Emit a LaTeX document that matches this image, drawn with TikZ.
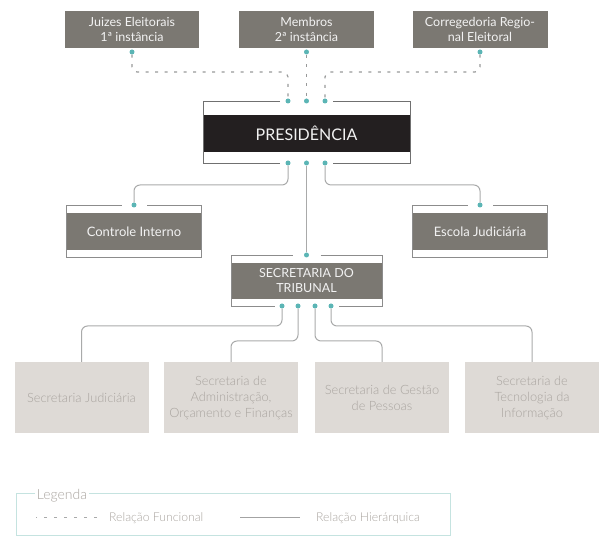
\documentclass[tikz,border=0pt]{standalone}
\usepackage{fontspec}
\setmainfont{Lato}[UprightFont={* Light}]
\newfontfamily\latoreg{Lato}
\usepackage{tikz}
\usetikzlibrary{positioning, calc}

\definecolor{boxgray}{HTML}{7B7872}
\definecolor{headdark}{HTML}{231F20}
\definecolor{lightbox}{HTML}{DEDAD6}
\definecolor{lighttext}{HTML}{A9A49F}
\definecolor{dotteal}{HTML}{5BB5B5}
\definecolor{linegray}{HTML}{A9AAAA}
\definecolor{framegray}{HTML}{8C8C8C}
\definecolor{legendline}{HTML}{C5E3E0}

\begin{document}
\begin{tikzpicture}[x=1pt, y=1pt,
                unitbox/.style={fill=boxgray, text=white!95!black, minimum width=135pt, minimum height=37pt,
                                align=center, inner sep=2pt, font=\latoreg\fontsize{12.5}{15}\selectfont},
                headbox/.style={unitbox, fill=headdark, minimum width=207pt, font=\latoreg\fontsize{16}{18}\selectfont},
                subbox/.style={fill=lightbox, text=lighttext, minimum width=134pt, minimum height=71pt,
                               align=center, inner sep=2pt, font=\fontsize{12.8}{16}\selectfont},
                linkdot/.style={circle, fill=dotteal, inner sep=0pt, minimum size=5pt},
                hier/.style={draw=linegray, line width=1pt, rounded corners=6pt},
                func/.style={draw=linegray!90!black, line width=1.2pt, dash pattern=on 3pt off 6.5pt, rounded corners=5pt},
                frameline/.style={draw=framegray, line width=0.8pt},
                legtext/.style={text=lighttext, font=\fontsize{12.2}{14}\selectfont, inner sep=1pt}]
                \useasboundingbox (0,0) rectangle (605,537);

                % Top level - functional
                \node[unitbox, minimum width=134pt] (juiz) at (132,507.5) {Juizes Eleitorais\\1ª instância};
                \node[unitbox] (memb) at (306.5,507.5) {Membros\\2ª instância};
                \node[unitbox] (corr) at (480,507.5) {Corregedoria Regio-\\nal Eleitoral};
                \node[linkdot] (jdot) at (132,485) {};
                \node[linkdot] (mdot) at (306.5,485) {};
                \node[linkdot] (cdot) at (480,485) {};

                % Presidencia
                \node[headbox] (pres) at (306.5,403.5) {PRESIDÊNCIA};
                \draw[frameline, draw=framegray!80!black] (280,436) -| (203,374) -- (280,374);
                \draw[frameline, draw=framegray!80!black] (333,436) -| (410,374) -- (333,374);
                \node[linkdot] (pt1) at (288,436) {};
                \node[linkdot] (pt2) at (306.5,436) {};
                \node[linkdot] (pt3) at (325,436) {};
                \node[linkdot] (pb1) at (288,374) {};
                \node[linkdot] (pb2) at (306.5,374) {};
                \node[linkdot] (pb3) at (325,374) {};

                % Assessment units
                \node[unitbox, font=\latoreg\fontsize{13}{15}\selectfont] (ctrl) at (134,305.5) {Controle Interno};
                \draw[frameline] (121.5,332) -| (66.5,280) -| (201.5,332) -- (146.5,332);
                \node[linkdot] (ctdot) at (134,332) {};
                \node[unitbox, font=\latoreg\fontsize{13}{15}\selectfont] (esc) at (480,305.5) {Escola Judiciária};
                \draw[frameline] (467.5,332) -| (412.5,280) -| (547.5,332) -- (492.5,332);
                \node[linkdot] (esdot) at (480,332) {};

                % Secretaria do Tribunal
                \node[unitbox, minimum width=151pt, minimum height=36pt, font=\latoreg\fontsize{12.5}{15}\selectfont] (sec) at (306.5,256) {SECRETARIA DO\\TRIBUNAL};
                \draw[frameline] (292.5,282) -| (231,231) -- (274.5,231);
                \draw[frameline] (320.5,282) -| (382,231) -- (338.5,231);
                \node[linkdot] (stdot) at (306.5,282) {};
                \node[linkdot] (sb1) at (282,231) {};
                \node[linkdot] (sb2) at (298,231) {};
                \node[linkdot] (sb3) at (315,231) {};
                \node[linkdot] (sb4) at (331,231) {};

                % Secretarias
                \node[subbox] (sjud) at (81.5,139.5) {Secretaria Judiciária};
                \node[subbox] (sadm) at (231,139.5) {Secretaria de\\Administração,\\Orçamento e Finanças};
                \node[subbox] (sgp) at (382,139.5) {Secretaria de Gestão\\de Pessoas};
                \node[subbox] (sti) at (532,139.5) {Secretaria de\\Tecnologia da\\Informação};

                % Functional links
                \draw[func] (jdot) -- ++(0,-20) -| (pt1);
                \draw[func] (mdot) -- (pt2);
                \draw[func] (cdot) -- ++(0,-20) -| (pt3);

                % Hierarchical links
                \draw[hier] (pb1) -- ++(0,-22) -| (ctdot);
                \draw[hier] (pb2) -- (stdot);
                \draw[hier] (pb3) -- ++(0,-22) -| (esdot);
                \draw[hier] (sb1) -- ++(0,-20) -| (sjud.north);
                \draw[hier] (sb2) -- ++(0,-35) -| (sadm.north);
                \draw[hier] (sb3) -- ++(0,-35) -| (sgp.north);
                \draw[hier] (sb4) -- ++(0,-20) -| (sti.north);

                % Legend
                \draw[draw=legendline, line width=0.8pt] (36,44) -| (16,2) -| (450,44) -- (88,44);
                \node[legtext, fill=white, font=\fontsize{14}{15}\selectfont, inner sep=2pt] (leg) at (62,41) {Legenda};
                \node[legtext, anchor=west] (funtxt) at (108,19) {Relação Funcional};
                \node[legtext, anchor=west] (hiertxt) at (315,19) {Relação Hierárquica};
                \draw[func, line width=1pt, draw=linegray, dash pattern=on 3pt off 7pt] ([xshift=-11pt]funtxt.west) -- ++(-61,0);
                \draw[hier, draw=framegray!80] ([xshift=-15pt]hiertxt.west) -- ++(-60,0);
\end{tikzpicture}
\end{document}
